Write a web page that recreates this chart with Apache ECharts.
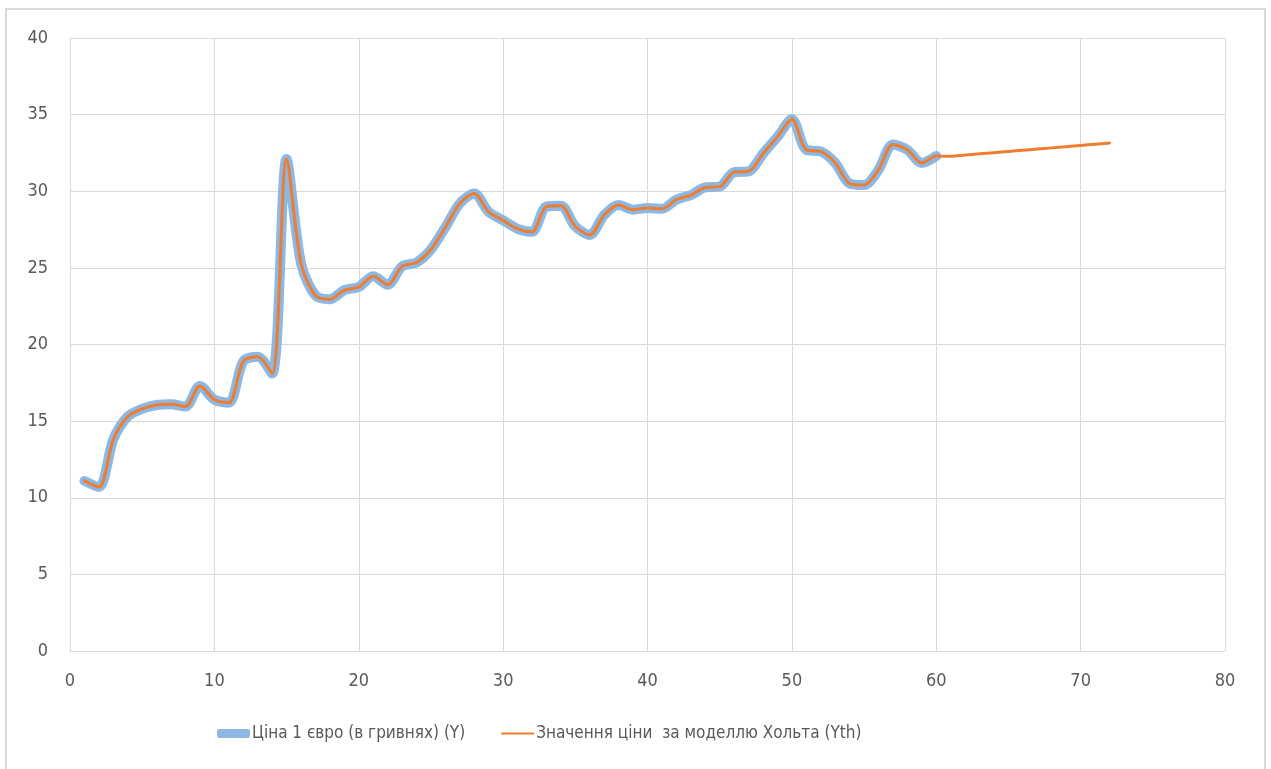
<!DOCTYPE html>
<html>
<head>
<meta charset="utf-8">
<script src="https://cdn.jsdelivr.net/npm/echarts@6/dist/echarts.min.js"></script>
<style>
  html, body { margin: 0; padding: 0; background: #fff; }
  #chart { width: 1271px; height: 769px; }
</style>
</head>
<body>
<div id="chart"></div>
<script>
// номери періодів (1..60 — факт, 61..72 — прогноз)
var periods = [];
for (var i = 1; i <= 72; i++) periods.push(i);

// фактична ціна 1 євро (Y)
var priceY = [
  11.1, 10.7, 13.8, 15.3, 15.8, 16.05, 16.1, 15.95, 17.3, 16.4,
  16.2, 18.9, 19.2, 18.1, 32.1, 25.3, 23.2, 22.95, 23.55, 23.75,
  24.45, 23.9, 25.1, 25.35, 26.2, 27.65, 29.2, 29.85, 28.65, 28.1,
  27.55, 27.35, 29.0, 29.05, 27.7, 27.15, 28.45, 29.1, 28.8, 28.9,
  28.85, 29.45, 29.75, 30.25, 30.3, 31.25, 31.3, 32.45, 33.55, 34.7,
  32.7, 32.6, 31.85, 30.5, 30.4, 31.4, 33.05, 32.7, 31.85, 32.3
];

// значення за моделлю Хольта (Yth), включно з прогнозом
var holtYth = [
  11.1, 10.7, 13.8, 15.3, 15.8, 16.05, 16.1, 15.95, 17.3, 16.4,
  16.2, 18.9, 19.2, 18.1, 32.1, 25.3, 23.2, 22.95, 23.55, 23.75,
  24.45, 23.9, 25.1, 25.35, 26.2, 27.65, 29.2, 29.85, 28.65, 28.1,
  27.55, 27.35, 29.0, 29.05, 27.7, 27.15, 28.45, 29.1, 28.8, 28.9,
  28.85, 29.45, 29.75, 30.25, 30.3, 31.25, 31.3, 32.45, 33.55, 34.7,
  32.7, 32.6, 31.85, 30.5, 30.4, 31.4, 33.05, 32.7, 31.85, 32.3,
  32.28, 32.36, 32.44, 32.52, 32.6, 32.68, 32.75, 32.83, 32.91, 32.99,
  33.07, 33.15
];

var seriesNames = ['Ціна 1 євро (в гривнях) (Y)', 'Значення ціни  за моделлю Хольта (Yth)'];

function pairs(vals) {
  return vals.map(function (v, k) { return [periods[k], v]; });
}

var labelFont = '"Liberation Sans Narrow", "DejaVu Sans Condensed", "Open Sans", sans-serif';

var myChart = echarts.init(document.getElementById('chart'), null, { renderer: 'canvas' });
var option = {
  animation: false,
  backgroundColor: '#fff',
  graphic: [{
    type: 'rect',
    shape: { x: 6, y: 9, width: 1259, height: 770 },
    style: { fill: 'none', stroke: '#d9d9d9', lineWidth: 2 },
    silent: true
  }],
  grid: { left: 70, right: 46, top: 38, bottom: 118 },
  xAxis: {
    type: 'value',
    min: 0, max: 80, interval: 10,
    axisLine: { show: true, lineStyle: { color: '#d9d9d9', width: 1 } },
    axisTick: { show: false },
    splitLine: { show: true, lineStyle: { color: '#d9d9d9', width: 1 } },
    axisLabel: { color: '#595959', fontSize: 18, fontFamily: labelFont, margin: 21 }
  },
  yAxis: {
    type: 'value',
    min: 0, max: 40, interval: 5,
    axisLine: { show: true, lineStyle: { color: '#d9d9d9', width: 1 } },
    axisTick: { show: false },
    splitLine: { show: true, lineStyle: { color: '#d9d9d9', width: 1 } },
    axisLabel: { color: '#595959', fontSize: 18, fontFamily: labelFont, margin: 22 }
  },
  legend: {
    bottom: 22,
    left: 212,
    itemGap: 36,
    itemWidth: 33,
    itemHeight: 9,
    textStyle: { color: '#595959', fontSize: 17, fontFamily: labelFont, padding: [0, 0, 0, -3] },
    data: [
      { name: seriesNames[0], icon: 'roundRect', itemStyle: { color: '#8cb8e3' } },
      {
        name: seriesNames[1],
        icon: 'path://M0,0 L0.01,0 M0,3.5 L33,3.5 L33,5.5 L0,5.5 Z M0,9 L0.01,9',
        itemStyle: { color: '#ed7d31' }
      }
    ]
  },
  series: [
    {
      name: seriesNames[0],
      type: 'line',
      data: pairs(priceY),
      smooth: 0.3,
      showSymbol: false,
      lineStyle: { color: '#8cb8e3', width: 10, cap: 'round', join: 'round' },
      itemStyle: { color: '#8cb8e3' }
    },
    {
      name: seriesNames[1],
      type: 'line',
      data: pairs(holtYth),
      smooth: 0.3,
      showSymbol: false,
      lineStyle: { color: '#ed7d31', width: 3, cap: 'round', join: 'round' },
      itemStyle: { color: '#ed7d31' }
    }
  ]
};
myChart.setOption(option);
</script>
</body>
</html>
